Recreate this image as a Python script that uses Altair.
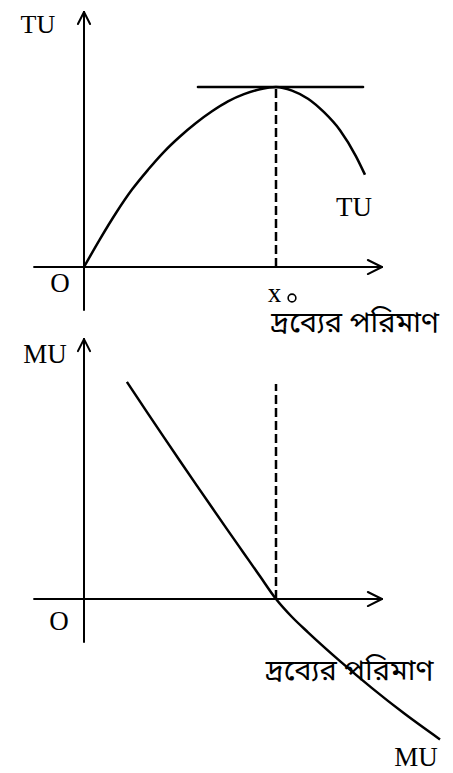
import altair as alt
import pandas as pd

# ---------------- data ----------------
# Total utility curve (quantity, utility)
tu_q = [0, 0.5, 1.0, 1.5, 2.0, 2.5, 3.0, 3.5, 4.0, 4.5, 5.0, 5.5, 6.0, 6.5, 7.0, 7.5, 8.0, 8.5, 8.78]
tu_v = [0, 1.55, 3.0, 4.3, 5.4, 6.4, 7.25, 8.0, 8.65, 9.2, 9.6, 9.87, 10.0, 9.8, 9.35, 8.6, 7.6, 6.15, 5.13]
# Marginal utility curve
mu_q = [1.34, 2.0, 2.5, 3.0, 3.5, 4.0, 4.5, 5.0, 5.5, 6.0, 6.5, 7.0, 8.0, 9.0, 10.0, 11.125]
mu_v = [12.06, 10.30, 8.98, 7.67, 6.37, 5.08, 3.80, 2.53, 1.26, 0, -1.0, -1.85, -3.45, -4.95, -6.35, -7.8]

x0 = 6.0          # quantity where TU peaks / MU = 0
tu_max = 10.0     # peak TU

# axis extents (data units)
axis_x_from, axis_x_to = -1.56, 9.31
axis_y_from = -2.39
top_axis_y_to, bot_axis_y_to = 14.17, 14.44
tangent_from, tangent_to = 3.56, 8.72
mu_dash_top = 11.94

# arrow-head arm lengths (data units)
arm_back_x, arm_half_x = 0.44, 0.39     # horizontal axis arrow
arm_back_y, arm_half_y = 0.67, 0.19     # vertical axis arrow

# labels
top_labels = ["O", "TU", "x"]
top_label_x = [-0.75, 8.44, 5.95]
top_label_y = [-0.94, 3.28, -1.50]
top_tu_xy = (-1.44, 13.0)
x0_mark_xy = (6.5, -1.72)
bot_labels = ["MU", "O"]
bot_label_x = [-1.22, -0.78]
bot_label_y = [13.56, -1.28]
bot_mu_xy = (10.375, -9.28)
qty_label = "দ্রব্যের পরিমাণ"
top_qty_xy = (8.47, -3.10)
bot_qty_xy = (8.30, -4.0)

# ---------------- layout ----------------
W = 437
X_DOM = [-2.375, 11.28125]
TOP_H, TOP_DOM = 328, [-3.8333, 14.3889]
BOT_H, BOT_DOM = 429, [-9.7222, 14.1111]

SERIF = "Liberation Serif, Times New Roman, DejaVu Serif, serif"
BENGALI = "Noto Sans Bengali, Noto Serif Bengali, Lohit Bengali, Mukti, FreeSans, FreeSerif, sans-serif"


def arrow_segs(up_tip):
    return [
        [axis_x_to, 0, axis_x_to - arm_back_x, arm_half_x, 2],
        [axis_x_to, 0, axis_x_to - arm_back_x, -arm_half_x, 2],
        [0, up_tip, -arm_half_y, up_tip - arm_back_y, 2],
        [0, up_tip, arm_half_y, up_tip - arm_back_y, 2],
    ]


def panel(height, ydom, curve_q, curve_v, segs, dash, labels, qty_xy, extra=None):
    xs = alt.Scale(domain=X_DOM, nice=False, zero=False)
    ys = alt.Scale(domain=ydom, nice=False, zero=False)
    X = lambda f: alt.X(f, type="quantitative", scale=xs, axis=None)
    Y = lambda f: alt.Y(f, type="quantitative", scale=ys, axis=None)

    curve_df = pd.DataFrame({"q": curve_q, "v": curve_v})
    curve = alt.Chart(curve_df).mark_line(
        color="black", strokeWidth=2.5, interpolate="monotone"
    ).encode(x=X("q"), y=Y("v"), order="q:Q")

    seg_df = pd.DataFrame(segs, columns=["x", "y", "x2", "y2", "w"])
    rules = alt.Chart(seg_df).mark_rule(color="black", strokeCap="round").encode(
        x=X("x"), y=Y("y"), x2="x2:Q", y2="y2:Q",
        strokeWidth=alt.StrokeWidth("w:Q", scale=None, legend=None),
    )

    dash_df = pd.DataFrame([dash], columns=["x", "y", "x2", "y2"])
    dashed = alt.Chart(dash_df).mark_rule(
        color="black", strokeWidth=2.5, strokeDash=[9, 4]
    ).encode(x=X("x"), y=Y("y"), x2="x2:Q", y2="y2:Q")

    lab_df = pd.DataFrame({"t": labels[0], "x": labels[1], "y": labels[2]})
    texts = alt.Chart(lab_df).mark_text(
        font=SERIF, fontSize=27, color="black", align="center", baseline="middle"
    ).encode(x=X("x"), y=Y("y"), text="t:N")

    qty_df = pd.DataFrame({"t": [qty_label], "x": [qty_xy[0]], "y": [qty_xy[1]]})
    qty = alt.Chart(qty_df).mark_text(
        font=BENGALI, fontSize=29, color="black", align="center", baseline="middle"
    ).encode(x=X("x"), y=Y("y"), text="t:N")

    layers = [curve, rules, dashed, texts, qty]
    if extra is not None:
        layers += [e(X, Y) for e in extra]
    return alt.layer(*layers).properties(width=W, height=height)


def x0_ring(X, Y):
    df = pd.DataFrame({"x": [x0_mark_xy[0]], "y": [x0_mark_xy[1]]})
    return alt.Chart(df).mark_point(
        shape="circle", size=60, filled=False, strokeWidth=1.6,
        color="black", opacity=1,
    ).encode(x=X("x"), y=Y("y"))


def baseline_label(text, xy, size):
    def make(X, Y):
        df = pd.DataFrame({"t": [text], "x": [xy[0]], "y": [xy[1]]})
        return alt.Chart(df).mark_text(
            font=SERIF, fontSize=size, color="black", align="center",
            baseline="alphabetic",
        ).encode(x=X("x"), y=Y("y"), text="t:N")
    return make


top = panel(
    TOP_H, TOP_DOM, tu_q, tu_v,
    [
        [axis_x_from, 0, axis_x_to, 0, 2],
        [0, axis_y_from, 0, top_axis_y_to, 2],
        [tangent_from, tu_max, tangent_to, tu_max, 2.5],
    ] + arrow_segs(top_axis_y_to),
    [x0, 0, x0, tu_max],
    (top_labels, top_label_x, top_label_y),
    top_qty_xy,
    extra=[x0_ring, baseline_label("TU", top_tu_xy, 26)],
)

bottom = panel(
    BOT_H, BOT_DOM, mu_q, mu_v,
    [
        [axis_x_from, 0, axis_x_to, 0, 2],
        [0, axis_y_from, 0, bot_axis_y_to, 2],
    ] + arrow_segs(bot_axis_y_to),
    [x0, 0, x0, mu_dash_top],
    (bot_labels, bot_label_x, bot_label_y),
    bot_qty_xy,
    extra=[baseline_label("MU", bot_mu_xy, 27)],
)

chart = alt.vconcat(top, bottom, spacing=0).properties(
    padding=0, background="white"
).configure_view(stroke=None).configure_concat(spacing=0)

chart.save("out.html", embed_options={"renderer": "svg", "actions": False})
